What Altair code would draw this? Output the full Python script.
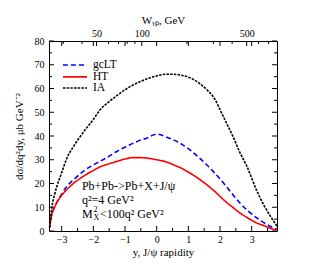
import altair as alt
import pandas as pd

# ---- data ----
rapidity = [-3.38, -3.32, -3.21, -3.0, -2.84, -2.63, -2.32, -2.0, -1.79, -1.5, -1.26, -1.0,
            -0.74, -0.5, -0.32, 0.0, 0.3, 0.53, 0.8, 1.05, 1.37, 1.58, 1.79, 2.11, 2.42,
            2.63, 2.84, 3.16, 3.4, 3.58, 3.8]
ia = [1.5, 9.0, 16.0, 24.5, 30.5, 35.5, 41.5, 47.0, 51.0, 54.5, 57.0, 59.5,
      61.5, 63.0, 64.0, 65.3, 66.0, 66.0, 65.5, 64.5, 62.0, 59.5, 56.5, 48.0, 39.5,
      33.0, 27.5, 17.0, 10.5, 6.5, 2.0]
gclt = [1.5, 6.5, 10.4, 15.5, 18.8, 21.5, 25.1, 27.8, 29.3, 31.5, 33.5, 35.3,
        37.0, 38.3, 39.1, 40.8, 39.6, 38.4, 36.5, 34.2, 30.5, 27.9, 25.0, 20.2, 15.1,
        11.8, 9.0, 5.5, 3.4, 2.0, 0.7]
ht = [1.5, 6.5, 10.4, 15.0, 17.4, 20.0, 23.0, 25.5, 27.0, 28.3, 29.3, 30.3,
      30.9, 30.9, 30.7, 30.0, 29.1, 27.9, 26.3, 24.4, 21.6, 19.5, 17.2, 13.2, 9.8,
      7.6, 5.8, 3.4, 2.2, 1.2, 0.4]

models = ["gcLT", "HT", "IA"]
colors = ["#0000ff", "#ff0000", "#000000"]
dashes = [[5, 3], [1, 0], [2.5, 1.2]]

x_labels = [-3, -2, -1, 0, 1, 2, 3]
x_minor = [-2.5, -1.5, -0.5, 0.5, 1.5, 2.5, 3.5]
y_labels = [0, 10, 20, 30, 40, 50, 60, 70, 80]
y_minor = [5, 15, 25, 35, 45, 55, 65, 75]
w_labels = [50, 100, 500]
w_minor = [30, 40, 60, 70, 80, 90, 200, 300, 400, 600, 700]

legend_y = [69.9, 64.9, 60.2]
notes = ["Pb+Pb->Pb+X+J/ψ", "q²=4 GeV²"]
notes_y = [18.9, 13.0]

X0, X1 = -3.4, 3.8
Y0, Y1 = 0, 80
W0, W1 = 24.1, 796

FONT = "Liberation Serif"
XT = "y, J/ψ rapidity"
YT = "dσ/dq²dy, μb GeV⁻²"

xs = alt.Scale(domain=[X0, X1], nice=False, zero=False)
ysc = alt.Scale(domain=[Y0, Y1], nice=False, zero=False)
xaxis = alt.Axis(values=x_labels, title=XT, labelPadding=3, titlePadding=2, format="d")
yaxis = alt.Axis(values=y_labels, title=YT, labelPadding=5, titlePadding=10, format="d")


def X(f):
    return alt.X(f, type="quantitative", scale=xs, axis=xaxis, title=XT)


def Y(f):
    return alt.Y(f, type="quantitative", scale=ysc, axis=yaxis, title=YT)


color = alt.Color("model:N", scale=alt.Scale(domain=models, range=colors), legend=None)
dash = alt.StrokeDash("model:N", scale=alt.Scale(domain=models, range=dashes), legend=None)

rows = []
for m, vals in zip(models, [gclt, ht, ia]):
    for r, v in zip(rapidity, vals):
        rows.append({"model": m, "x": r, "v": v})
df = pd.DataFrame(rows)

lines = alt.Chart(df).mark_line(strokeWidth=1.6, interpolate="monotone").encode(
    x=X("x"), y=Y("v"), color=color, strokeDash=dash, order="x:Q")

leg = pd.DataFrame({"model": models, "x": [-2.96] * 3, "x2": [-2.2] * 3,
                    "v": legend_y, "tx": [-2.01] * 3})
leg_lines = alt.Chart(leg).mark_rule(strokeWidth=1.6).encode(
    x=X("x"), x2="x2", y=Y("v"), color=color, strokeDash=dash)
leg_text = alt.Chart(leg).mark_text(align="left", baseline="middle", font=FONT,
                                    fontSize=11.5, color="black").encode(
    x=X("tx"), y=Y("v"), text="model:N")

# inward ticks (in data units)
dy_maj, dy_min = 5 / 2.381, 3 / 2.381
dx_maj, dx_min = 5 / 31.67, 3 / 31.67
tk = []
for p in x_labels:
    tk.append({"x": p, "x2": p, "v": Y0, "v2": Y0 + dy_maj})
    tk.append({"x": p, "x2": p, "v": Y1, "v2": Y1 - dy_maj})
for p in x_minor:
    tk.append({"x": p, "x2": p, "v": Y0, "v2": Y0 + dy_min})
for p in y_labels:
    tk.append({"x": X0, "x2": X0 + dx_maj, "v": p, "v2": p})
    tk.append({"x": X1, "x2": X1 - dx_maj, "v": p, "v2": p})
for p in y_minor:
    tk.append({"x": X0, "x2": X0 + dx_min, "v": p, "v2": p})
    tk.append({"x": X1, "x2": X1 - dx_min, "v": p, "v2": p})
tdf = pd.DataFrame(tk)
ticks = alt.Chart(tdf).mark_rule(color="black", strokeWidth=1).encode(
    x=X("x"), x2="x2", y=Y("v"), y2="v2")

ndf = pd.DataFrame({"t": notes, "x": [-2.36] * 2, "v": notes_y})
note_text = alt.Chart(ndf).mark_text(align="left", baseline="middle", font=FONT,
                                     fontSize=12, color="black").encode(
    x=X("x"), y=Y("v"), text="t:N")
mdf = pd.DataFrame({"x": [-2.36], "v": [7.2]})
m_main = alt.Chart(mdf).mark_text(align="left", baseline="middle", font=FONT, fontSize=12,
                                  color="black", text="M").encode(x=X("x"), y=Y("v"))
m_sup = alt.Chart(mdf).mark_text(align="left", baseline="middle", font=FONT, fontSize=8,
                                 color="black", text="2", dx=11.5, dy=-4).encode(x=X("x"), y=Y("v"))
m_sub = alt.Chart(mdf).mark_text(align="left", baseline="middle", font=FONT, fontSize=8,
                                 color="black", text="X", dx=11.5, dy=4).encode(x=X("x"), y=Y("v"))
m_rest = alt.Chart(mdf).mark_text(align="left", baseline="middle", font=FONT, fontSize=12,
                                  color="black", text="<100q² GeV²", dx=18).encode(x=X("x"), y=Y("v"))

inner = alt.layer(ticks, lines, leg_lines, leg_text, note_text, m_main, m_sup, m_sub, m_rest)

# top W axis (log scale)
wt = [{"w": w, "v": Y1, "v2": Y1 - dy_maj} for w in w_labels] + \
     [{"w": w, "v": Y1, "v2": Y1 - dy_min} for w in w_minor]
wdf = pd.DataFrame(wt)
top = alt.Chart(wdf).mark_rule(color="black", strokeWidth=1).encode(
    x=alt.X("w:Q", scale=alt.Scale(type="log", domain=[W0, W1], nice=False),
            axis=alt.Axis(orient="top", values=w_labels, format="d", title="Wᵧₚ, GeV",
                          labelPadding=3, titlePadding=3)),
    y=Y("v"), y2="v2")

chart = alt.layer(inner, top).resolve_scale(x="independent").properties(
    width=228, height=190,
    autosize=alt.AutoSizeParams(type="none"),
    padding={"left": 41, "top": 33, "right": 38, "bottom": 30},
).configure_view(stroke="black", strokeWidth=1).configure_axis(
    grid=False, ticks=False, domain=False,
    labelFont=FONT, labelFontSize=10, labelColor="black",
    titleFont=FONT, titleFontSize=11, titleFontWeight="normal", titleColor="black",
)

chart.save("out.html", embed_options={"renderer": "svg", "actions": False})
